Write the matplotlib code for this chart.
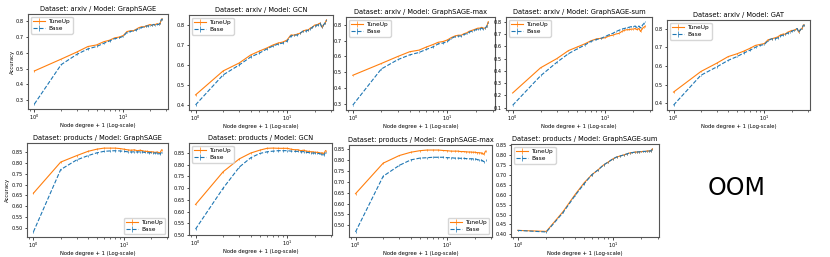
import matplotlib
matplotlib.use("Agg")
import matplotlib.pyplot as plt
import numpy as np

deg = list(range(1, 28))
deg_p = list(range(1, 27))

# arxiv
arxiv_sage_tu = [0.485, 0.56, 0.605, 0.64, 0.65, 0.67, 0.68, 0.695, 0.70, 0.71, 0.735, 0.74, 0.74, 0.75, 0.76, 0.765, 0.765, 0.77, 0.775, 0.78, 0.775, 0.78, 0.78, 0.785, 0.78, 0.79, 0.815]
arxiv_sage_base = [0.275, 0.525, 0.59, 0.625, 0.64, 0.66, 0.675, 0.69, 0.695, 0.705, 0.73, 0.735, 0.74, 0.745, 0.755, 0.76, 0.765, 0.77, 0.77, 0.775, 0.775, 0.78, 0.775, 0.78, 0.78, 0.79, 0.815]
arxiv_gcn_tu = [0.45, 0.57, 0.61, 0.65, 0.67, 0.685, 0.70, 0.71, 0.715, 0.725, 0.75, 0.75, 0.755, 0.76, 0.77, 0.775, 0.775, 0.785, 0.79, 0.80, 0.80, 0.805, 0.81, 0.79, 0.80, 0.81, 0.825]
arxiv_gcn_base = [0.40, 0.55, 0.60, 0.64, 0.66, 0.68, 0.695, 0.705, 0.71, 0.72, 0.745, 0.75, 0.75, 0.76, 0.77, 0.77, 0.775, 0.78, 0.79, 0.795, 0.80, 0.80, 0.81, 0.79, 0.80, 0.81, 0.825]
arxiv_max_tu = [0.48, 0.555, 0.60, 0.63, 0.64, 0.66, 0.675, 0.69, 0.695, 0.705, 0.72, 0.73, 0.735, 0.735, 0.745, 0.75, 0.76, 0.765, 0.77, 0.775, 0.78, 0.78, 0.785, 0.78, 0.78, 0.79, 0.82]
arxiv_max_base = [0.29, 0.52, 0.58, 0.61, 0.625, 0.645, 0.66, 0.68, 0.685, 0.695, 0.715, 0.725, 0.73, 0.73, 0.74, 0.745, 0.755, 0.76, 0.765, 0.77, 0.775, 0.775, 0.78, 0.775, 0.78, 0.79, 0.815]
arxiv_sum_tu = [0.22, 0.425, 0.50, 0.565, 0.595, 0.62, 0.645, 0.66, 0.665, 0.67, 0.685, 0.69, 0.70, 0.705, 0.72, 0.73, 0.735, 0.735, 0.74, 0.74, 0.745, 0.735, 0.745, 0.72, 0.745, 0.755, 0.765]
arxiv_sum_base = [0.12, 0.36, 0.47, 0.54, 0.58, 0.61, 0.64, 0.655, 0.665, 0.68, 0.695, 0.705, 0.72, 0.73, 0.74, 0.745, 0.75, 0.755, 0.76, 0.76, 0.765, 0.75, 0.765, 0.75, 0.77, 0.785, 0.80]
arxiv_gat_tu = [0.46, 0.57, 0.615, 0.65, 0.665, 0.68, 0.695, 0.71, 0.715, 0.72, 0.74, 0.745, 0.75, 0.755, 0.765, 0.77, 0.77, 0.78, 0.785, 0.79, 0.79, 0.795, 0.80, 0.78, 0.795, 0.80, 0.82]
arxiv_gat_base = [0.39, 0.55, 0.595, 0.63, 0.65, 0.67, 0.685, 0.70, 0.71, 0.715, 0.735, 0.745, 0.745, 0.75, 0.76, 0.765, 0.77, 0.775, 0.78, 0.785, 0.79, 0.795, 0.80, 0.78, 0.795, 0.80, 0.82]

# products
prod_sage_tu = [0.66, 0.805, 0.835, 0.855, 0.865, 0.87, 0.87, 0.87, 0.868, 0.865, 0.862, 0.86, 0.862, 0.858, 0.86, 0.858, 0.855, 0.855, 0.853, 0.853, 0.852, 0.85, 0.852, 0.85, 0.848, 0.862]
prod_sage_base = [0.48, 0.77, 0.815, 0.835, 0.848, 0.855, 0.857, 0.858, 0.857, 0.855, 0.853, 0.852, 0.853, 0.852, 0.853, 0.852, 0.85, 0.85, 0.848, 0.85, 0.848, 0.847, 0.848, 0.846, 0.843, 0.85]
prod_gcn_tu = [0.63, 0.77, 0.825, 0.85, 0.862, 0.87, 0.871, 0.87, 0.87, 0.87, 0.866, 0.864, 0.864, 0.86, 0.862, 0.858, 0.857, 0.855, 0.855, 0.853, 0.853, 0.852, 0.85, 0.85, 0.848, 0.86]
prod_gcn_base = [0.525, 0.70, 0.79, 0.83, 0.848, 0.855, 0.858, 0.86, 0.86, 0.86, 0.858, 0.857, 0.857, 0.855, 0.856, 0.853, 0.852, 0.85, 0.85, 0.85, 0.848, 0.848, 0.846, 0.845, 0.842, 0.852]
prod_max_tu = [0.645, 0.785, 0.82, 0.835, 0.842, 0.845, 0.845, 0.845, 0.843, 0.842, 0.84, 0.84, 0.84, 0.838, 0.838, 0.837, 0.836, 0.836, 0.835, 0.835, 0.833, 0.833, 0.832, 0.83, 0.825, 0.84]
prod_max_base = [0.47, 0.725, 0.775, 0.80, 0.808, 0.81, 0.812, 0.812, 0.812, 0.81, 0.81, 0.808, 0.808, 0.807, 0.807, 0.806, 0.806, 0.805, 0.805, 0.805, 0.802, 0.8, 0.8, 0.797, 0.792, 0.80]
prod_sum_tu = [0.42, 0.415, 0.515, 0.60, 0.66, 0.70, 0.725, 0.75, 0.765, 0.78, 0.79, 0.795, 0.80, 0.805, 0.81, 0.812, 0.814, 0.815, 0.816, 0.817, 0.818, 0.818, 0.82, 0.82, 0.82, 0.83]
prod_sum_base = [0.42, 0.412, 0.51, 0.595, 0.655, 0.70, 0.725, 0.75, 0.765, 0.78, 0.79, 0.795, 0.80, 0.805, 0.81, 0.812, 0.814, 0.815, 0.816, 0.817, 0.818, 0.818, 0.82, 0.82, 0.82, 0.83]

W, H = 830, 257
fig = plt.figure(figsize=(W / 100, H / 100), dpi=100)

def box(l, r, t, b):
    return [l / W, 1 - b / H, (r - l) / W, (b - t) / H]

panels = [
    ("Dataset: arxiv / Model: GraphSAGE", deg, arxiv_sage_tu, arxiv_sage_base, box(28, 168, 14, 109), "upper left", True, [0.3, 0.4, 0.5, 0.6, 0.7, 0.8], "{:.1f}"),
    ("Dataset: arxiv / Model: GCN", deg, arxiv_gcn_tu, arxiv_gcn_base, box(189, 333, 15, 110), "upper left", False, [0.4, 0.5, 0.6, 0.7, 0.8], "{:.1f}"),
    ("Dataset: arxiv / Model: GraphSAGE-max", deg, arxiv_max_tu, arxiv_max_base, box(346, 495, 17, 110), "upper left", False, [0.3, 0.4, 0.5, 0.6, 0.7, 0.8], "{:.1f}"),
    ("Dataset: arxiv / Model: GraphSAGE-sum", deg, arxiv_sum_tu, arxiv_sum_base, box(506, 652, 17, 110), "upper left", False, [0.1, 0.2, 0.3, 0.4, 0.5, 0.6, 0.7, 0.8], "{:.1f}"),
    ("Dataset: arxiv / Model: GAT", deg, arxiv_gat_tu, arxiv_gat_base, box(667, 810, 20, 110), "upper left", False, [0.4, 0.5, 0.6, 0.7, 0.8], "{:.1f}"),
    ("Dataset: products / Model: GraphSAGE", deg_p, prod_sage_tu, prod_sage_base, box(27, 168, 143, 237), "lower right", True, [0.5, 0.55, 0.6, 0.65, 0.7, 0.75, 0.8, 0.85], "{:.2f}"),
    ("Dataset: products / Model: GCN", deg_p, prod_gcn_tu, prod_gcn_base, box(189, 332, 143, 235), "upper left", False, [0.5, 0.55, 0.6, 0.65, 0.7, 0.75, 0.8, 0.85], "{:.2f}"),
    ("Dataset: products / Model: GraphSAGE-max", deg_p, prod_max_tu, prod_max_base, box(349, 492, 145, 237), "lower right", False, [0.5, 0.55, 0.6, 0.65, 0.7, 0.75, 0.8, 0.85], "{:.2f}"),
    ("Dataset: products / Model: GraphSAGE-sum", deg_p, prod_sum_tu, prod_sum_base, box(511, 659, 144, 237), "upper left", False, [0.4, 0.45, 0.5, 0.55, 0.6, 0.65, 0.7, 0.75, 0.8, 0.85], "{:.2f}"),
]

fs_t = 4.8
fs_k = 3.6
for title, x, tu, base, pos, loc, ylab, yt, fmt in panels:
    ax = fig.add_axes(pos)
    err_tu = [0.004] * len(x)
    err_b = [0.004] * len(x)
    ax.errorbar(x, tu, yerr=err_tu, color="tab:orange", lw=0.8, elinewidth=0.5, label="TuneUp")
    ax.errorbar(x, base, yerr=err_b, color="tab:blue", lw=0.8, ls="--", elinewidth=0.5, label="Base")
    ax.set_xscale("log")
    ax.set_yticks(yt)
    ax.set_yticklabels([fmt.format(v) for v in yt])
    ax.set_title(title, fontsize=fs_t, pad=2)
    ax.set_xlabel("Node degree + 1 (Log-scale)", fontsize=fs_k + 0.2, labelpad=0.5)
    if ylab:
        ax.set_ylabel("Accuracy", fontsize=fs_k + 0.2, labelpad=1)
    ax.tick_params(labelsize=fs_k, length=1.8, width=0.5, pad=1)
    ax.tick_params(which="minor", length=1.1, width=0.4)
    for s in ax.spines.values():
        s.set_linewidth(0.8)
        s.set_color("#555555")
    ax.legend(loc=loc, fontsize=fs_k + 0.6, handlelength=2.0, borderpad=0.4,
              labelspacing=0.3, handletextpad=0.6, framealpha=0.8)

fig.text(737 / W, 1 - 188 / H, "OOM", fontsize=17, ha="center", va="center")

fig.savefig("out.png", dpi=100)
